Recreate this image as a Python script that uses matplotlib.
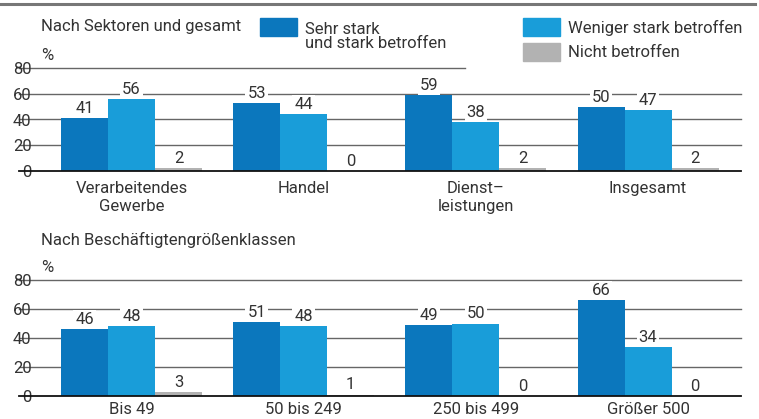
import matplotlib.pyplot as plt
from matplotlib.patches import Rectangle
from matplotlib.lines import Line2D
import numpy as np

# ---- data ----
sektoren = ["Verarbeitendes\nGewerbe", "Handel", "Dienst\u2013\nleistungen", "Insgesamt"]
sektor_sehr = [41, 53, 59, 50]
sektor_weniger = [56, 44, 38, 47]
sektor_nicht = [2, 0, 2, 2]

groessen = ["Bis 49", "50 bis 249", "250 bis 499", "Gr\u00f6\u00dfer 500"]
groesse_sehr = [46, 51, 49, 66]
groesse_weniger = [48, 48, 50, 34]
groesse_nicht = [3, 1, 0, 0]

legend_labels = ["Sehr stark\nund stark betroffen", "Weniger stark betroffen", "Nicht betroffen"]
y_ticks = [0, 20, 40, 60, 80]

# ---- style ----
C_DARK = "#0b77bd"
C_LIGHT = "#199dd9"
C_GRAY = "#b2b2b2"
TXT = "#333333"
FS = 12
plt.rcParams["font.family"] = ["Roboto", "DejaVu Sans"]

W, H = 759, 419
fig = plt.figure(figsize=(W / 100, H / 100), dpi=100)


def px_box(x0, y_top, x1, y_bot):
    return [x0 / W, 1 - y_bot / H, (x1 - x0) / W, (y_bot - y_top) / H]


def draw_panel(ax, cats, sehr, weniger, nicht, top_line_end=None, xpad=7):
    x = np.arange(len(cats))
    bw = 0.273
    ax.set_xlim(-0.532, 3.54)
    ax.set_ylim(0, 80)
    for t in y_ticks[1:]:
        xmax = top_line_end if (t == 80 and top_line_end is not None) else 1
        ax.axhline(t, xmin=-0.03, xmax=xmax, color="#666666", lw=1.0, zorder=0, clip_on=False)
    ax.axhline(0, xmin=-0.03, xmax=1, color="#111111", lw=1.3, zorder=4, clip_on=False)
    for vals, off, col in [(sehr, -bw, C_DARK), (weniger, 0, C_LIGHT), (nicht, bw, C_GRAY)]:
        bars = ax.bar(x + off, vals, width=bw, color=col, zorder=3)
        for b, v in zip(bars, vals):
            # label box sits under the bars so it only hides the gridlines
            ax.annotate(str(v), (b.get_x() + b.get_width() / 2, v), xytext=(0, 1.5),
                        textcoords="offset points", ha="center", va="bottom",
                        fontsize=FS, color=TXT, zorder=1,
                        bbox=dict(boxstyle="square,pad=0.12", fc="white", ec="none"))
    ax.set_xticks(x)
    ax.set_xticklabels(cats, fontsize=FS, color=TXT, linespacing=1.25)
    ax.set_yticks(y_ticks)
    ax.set_yticklabels([str(t) for t in y_ticks], fontsize=FS, color=TXT)
    ax.tick_params(axis="x", length=0, pad=xpad)
    ax.tick_params(axis="y", length=0, pad=6)
    for s in ax.spines.values():
        s.set_visible(False)
    ax.set_facecolor("none")


ax1 = fig.add_axes(px_box(40, 68, 741, 171))
draw_panel(ax1, sektoren, sektor_sehr, sektor_weniger, sektor_nicht, top_line_end=(465 - 40) / 701)
ax2 = fig.add_axes(px_box(40, 280, 741, 396))
draw_panel(ax2, groessen, groesse_sehr, groesse_weniger, groesse_nicht, xpad=4)

# top rule
fig.add_artist(Line2D([0, 755 / W], [1 - 4.5 / H] * 2, color="#777777", lw=2.2))

# panel titles and units
fig.text(41 / W, 1 - 27 / H, "Nach Sektoren und gesamt", fontsize=FS, color=TXT, va="center")
fig.text(41 / W, 1 - 240 / H, "Nach Besch\u00e4ftigtengr\u00f6\u00dfenklassen", fontsize=FS, color=TXT, va="center")
fig.text(41 / W, 1 - 55 / H, "%", fontsize=FS, color=TXT, va="center")
fig.text(41 / W, 1 - 268 / H, "%", fontsize=FS, color=TXT, va="center")

# legend
for (x0, y0), col, lab in zip([(260, 18), (523, 18), (523, 43)], [C_DARK, C_LIGHT, C_GRAY], legend_labels):
    fig.add_artist(Rectangle((x0 / W, 1 - (y0 + 18) / H), 37 / W, 18 / H,
                             transform=fig.transFigure, color=col))
    ty = y0 + 18.5 if "\n" in lab else y0 + 9.5
    fig.text((x0 + 45) / W, 1 - ty / H, lab, fontsize=FS, color=TXT,
             va="center", linespacing=1.0)

fig.savefig("out.png", dpi=100)
